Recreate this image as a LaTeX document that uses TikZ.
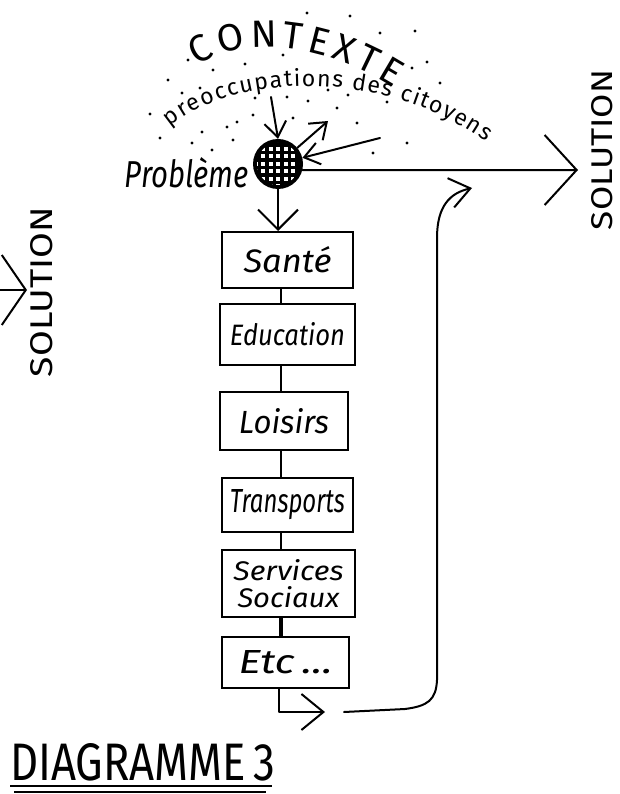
\documentclass[tikz,border=0pt]{standalone}
\usepackage{fontspec}
\setmainfont{Fira Sans}
\usetikzlibrary{arrows.meta,decorations.text,calc}
\begin{document}
\begin{tikzpicture}[x=1pt,y=-1pt,
  ln/.style={line width=2pt,line cap=round,line join=round},
  box/.style={draw,line width=2pt,inner sep=0pt,font=\itshape},
  tipS/.style={-{Straight Barb[length=15pt,width=22pt,line width=2pt]}},
  tipM/.style={-{Straight Barb[length=20pt,width=40pt,line width=2pt]}},
  tipL/.style={-{Straight Barb[length=32pt,width=70pt,line width=2pt]}}]
\useasboundingbox (0,0) rectangle (619,794);
% dots of the context cloud
\foreach \p in {(307,13),(350,16),(415,31),(380,33),(188,60),(283,55),(245,64),(213,70),
  (427,62),(412,68),(440,83),(168,80),(182,93),(200,88),(255,98),(287,97),(308,101),
  (328,90),(348,95),(387,102),(337,108),(150,114),(160,138),(253,115),(237,122),
  (227,127),(202,132),(192,143),(212,150),(233,140),(293,118),(357,123),(407,143),(373,153)}
  \fill \p circle (1.7);
% curved texts
\path[decorate,decoration={text along path,
  text={|\fontsize{38}{38}\selectfont|CONTEXTE},text align={fit to path}}]
  (197,66) .. controls (240,38) and (315,38) .. (394,88);
\path[decorate,decoration={text along path,
  text={|\fontsize{23}{23}\selectfont|preoccupations des citoyens},text align={fit to path}}]
  (170,127) .. controls (235,72) and (385,68) .. (486,142);
% the problem ball
\node[circle,fill=black,minimum size=50pt,inner sep=0pt] (ball) at (278,164) {};
\begin{scope}
  \clip (278,164) circle (21);
  \foreach \i in {-3,...,3}{\foreach \j in {-3,...,3}{
    \fill[white] (276+\i*7.5,162+\j*7.5) rectangle +(4,4);}}
\end{scope}
\node[anchor=base east,font=\itshape,inner sep=0pt] (prob) at (249,188) {\resizebox{124pt}{30pt}{Problème}};
% arrows around the ball
\coordinate (ctxtop) at (271,97);
\coordinate (outtip) at (328,121);
\coordinate (insrc) at (380,138);
\coordinate (soltip) at (578,170);
\draw[ln,tipS] (ctxtop) -- (ball.north);
\draw[ln,tipS] (ball.40) -- (outtip);
\draw[ln,tipS] (insrc) -- (ball);
\draw[ln,tipL] (ball.-14) -- (soltip);
% SOLUTION labels
\node[rotate=90,inner sep=0pt] (solR) at (602,150) {\resizebox{160pt}{21pt}{SOLUTION}};
\node[rotate=90,inner sep=0pt] (solL) at (42,292) {\resizebox{170pt}{22pt}{SOLUTION}};
\coordinate (ltail) at (-2,290);
\coordinate (ltip) at (27,290);
\draw[ln,-{Straight Barb[length=24pt,width=70pt,line width=2pt]}] (ltail) -- (ltip);
% boxes
\node[box,minimum width=131pt,minimum height=56pt] (sante) at (287.5,260) {\resizebox{88pt}{26pt}{Santé}};
\node[box,minimum width=135pt,minimum height=61pt] (educ) at (287.5,334.5) {\resizebox{115pt}{23pt}{Education}};
\node[box,minimum width=128pt,minimum height=58pt] (lois) at (284,421) {\resizebox{90pt}{25pt}{Loisirs}};
\node[box,minimum width=131pt,minimum height=54pt] (trans) at (287.5,505) {\resizebox{115pt}{23pt}{Transports}};
\node[box,minimum width=133pt,minimum height=67pt,align=center] (serv) at (288.5,583.5)
  {\resizebox{110pt}{21pt}{Services}\\[4pt]\resizebox{102pt}{21pt}{Sociaux}};
\node[box,minimum width=127pt,minimum height=51pt] (etc) at (285.5,662.5) {\resizebox{94pt}{23pt}{Etc\,...}};
\coordinate (spine) at (281,0);
\draw[ln,tipM] (ball.south) -- (ball.south |- sante.north);
\draw[ln] (sante.south -| spine) -- (educ.north -| spine);
\draw[ln] (educ.south -| spine) -- (lois.north -| spine);
\draw[ln] (lois.south -| spine) -- (trans.north -| spine);
\draw[ln] (trans.south -| spine) -- (serv.north -| spine);
\draw[ln,line width=3.5pt] (serv.south -| spine) -- (etc.north -| spine);
% exit and return
\coordinate (ebend) at (279,712);
\coordinate (etip) at (325,712);
\draw[ln,-{Straight Barb[length=22pt,width=36pt,line width=2pt]}] (etc.south -| ebend) -- (ebend) -- (etip);
\coordinate (rstart) at (344,712);
\coordinate (rtip) at (472,188);
\draw[ln,-{Straight Barb[length=20pt,width=30pt,line width=2pt]}] (rstart) -- (405,709)
  .. controls (428,706) and (436,700) .. (437,680) -- (437,238)
  .. controls (437,206) and (450,193) .. (rtip);
% title
\node[anchor=base west,inner sep=0pt] (title) at (10,780) {\resizebox{265pt}{37pt}{DIAGRAMME\,3}};
\draw[line width=2.5pt] (10,786) -- (272,786);
\draw[line width=1.5pt] (14,792) -- (266,792);
\end{tikzpicture}
\end{document}
